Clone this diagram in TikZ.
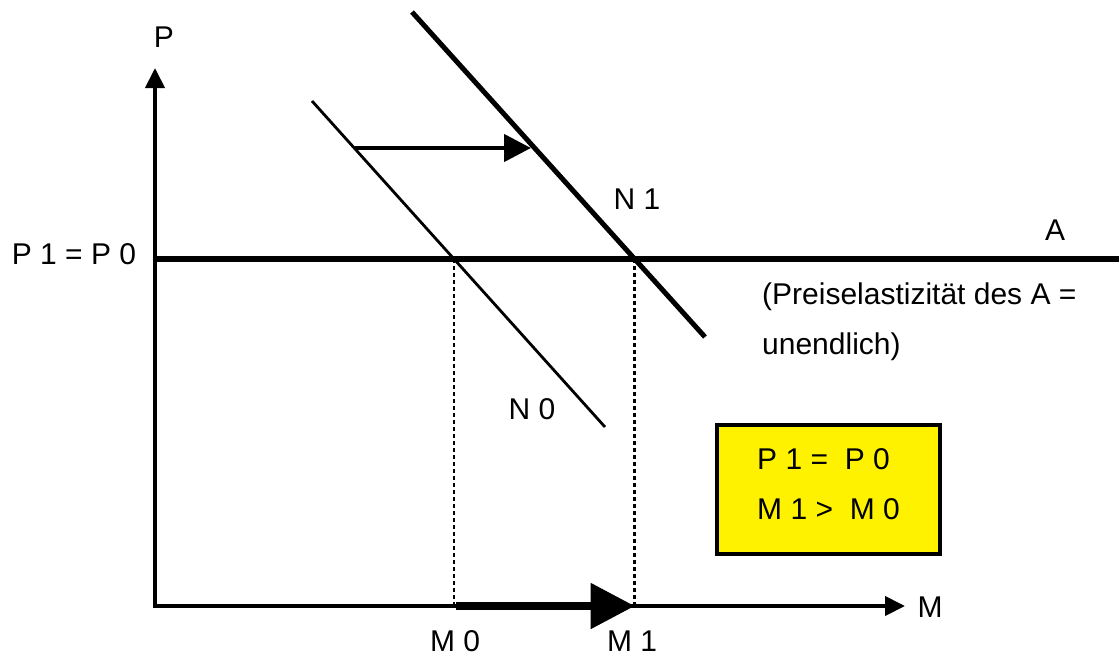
\documentclass[tikz,border=0pt]{standalone}
\usepackage{fontspec}
\setmainfont{Liberation Sans}
\usepackage{tikz}
\usetikzlibrary{arrows.meta}

\tikzset{
    lbl/.style={font=\fontsize{30}{35}\selectfont, inner sep=0},
    axis/.style={line width=4pt},
    demand/.style={line width=#1},
    drop/.style={line width=2.5pt, dash pattern=on 4pt off 3pt},
}

\begin{document}
\begin{tikzpicture}[x=1pt,y=-1pt]
    \useasboundingbox (0,0) rectangle (1119,657);
    \coordinate(o) at (155,606);
    \coordinate(py) at (155,68);
    \coordinate(mx) at (905,606);
    \coordinate(a0) at (157,259);
    \coordinate(a1) at (1119,259);
    \coordinate(n0a) at (312,101);
    \coordinate(n0b) at (605,427);
    \coordinate(n1a) at (412,12);
    \coordinate(n1b) at (705,337);
    \coordinate(s0) at (355,148);
    \coordinate(s1) at (531,148);
    \coordinate(e0) at (intersection of n0a--n0b and a0--a1);
    \coordinate(e1) at (intersection of n1a--n1b and a0--a1);

    \node(p)[lbl] at (164,37.5) {P};
    \node(m)[lbl] at (930,607) {M};
    \node(pp)[lbl] at (74,254) {P 1 = P 0};
    \node(a)[lbl] at (1055,230.5) {A};
    \node(l1)[lbl] at (637,199) {N 1};
    \node(l0)[lbl] at (532,409.5) {N 0};
    \node(m0)[lbl] at (455,641) {M 0};
    \node(m1)[lbl] at (632,641) {M 1};
    \node(el)[lbl,font=\fontsize{30}{50}\selectfont,align=left,anchor=north west] at (762,283) {(Preiselastizität des A =\\unendlich)};
    \node(box)[lbl,font=\fontsize{30}{50}\selectfont,draw,fill=yellow,line width=4pt,align=left,
        minimum width=223pt,minimum height=129pt,text depth=10pt] at (828.5,489.5) {P 1 =\ \ P 0\\M 1 >\ \ M 0};

    \draw[drop] (e0) -- (e0 |- o);
    \draw[drop] (e1) -- (e1 |- o);
    \draw[axis,{Triangle[length=20pt,width=19pt]}-{Triangle[length=20pt,width=19pt]}] (py) -- (o) -- (mx);
    \draw[line width=6pt] (a0) -- (a1);
    \draw[demand=2.8pt] (n0a) -- (n0b);
    \draw[demand=5pt] (n1a) -- (n1b);
    \draw[line width=4.5pt,-{Triangle[length=27pt,width=27pt]}] (s0) -- (s1);
    \draw[line width=8pt,-{Triangle[length=44pt,width=44pt]}] ([xshift=2pt]e0 |- o) -- (e1 |- o);
\end{tikzpicture}
\end{document}
